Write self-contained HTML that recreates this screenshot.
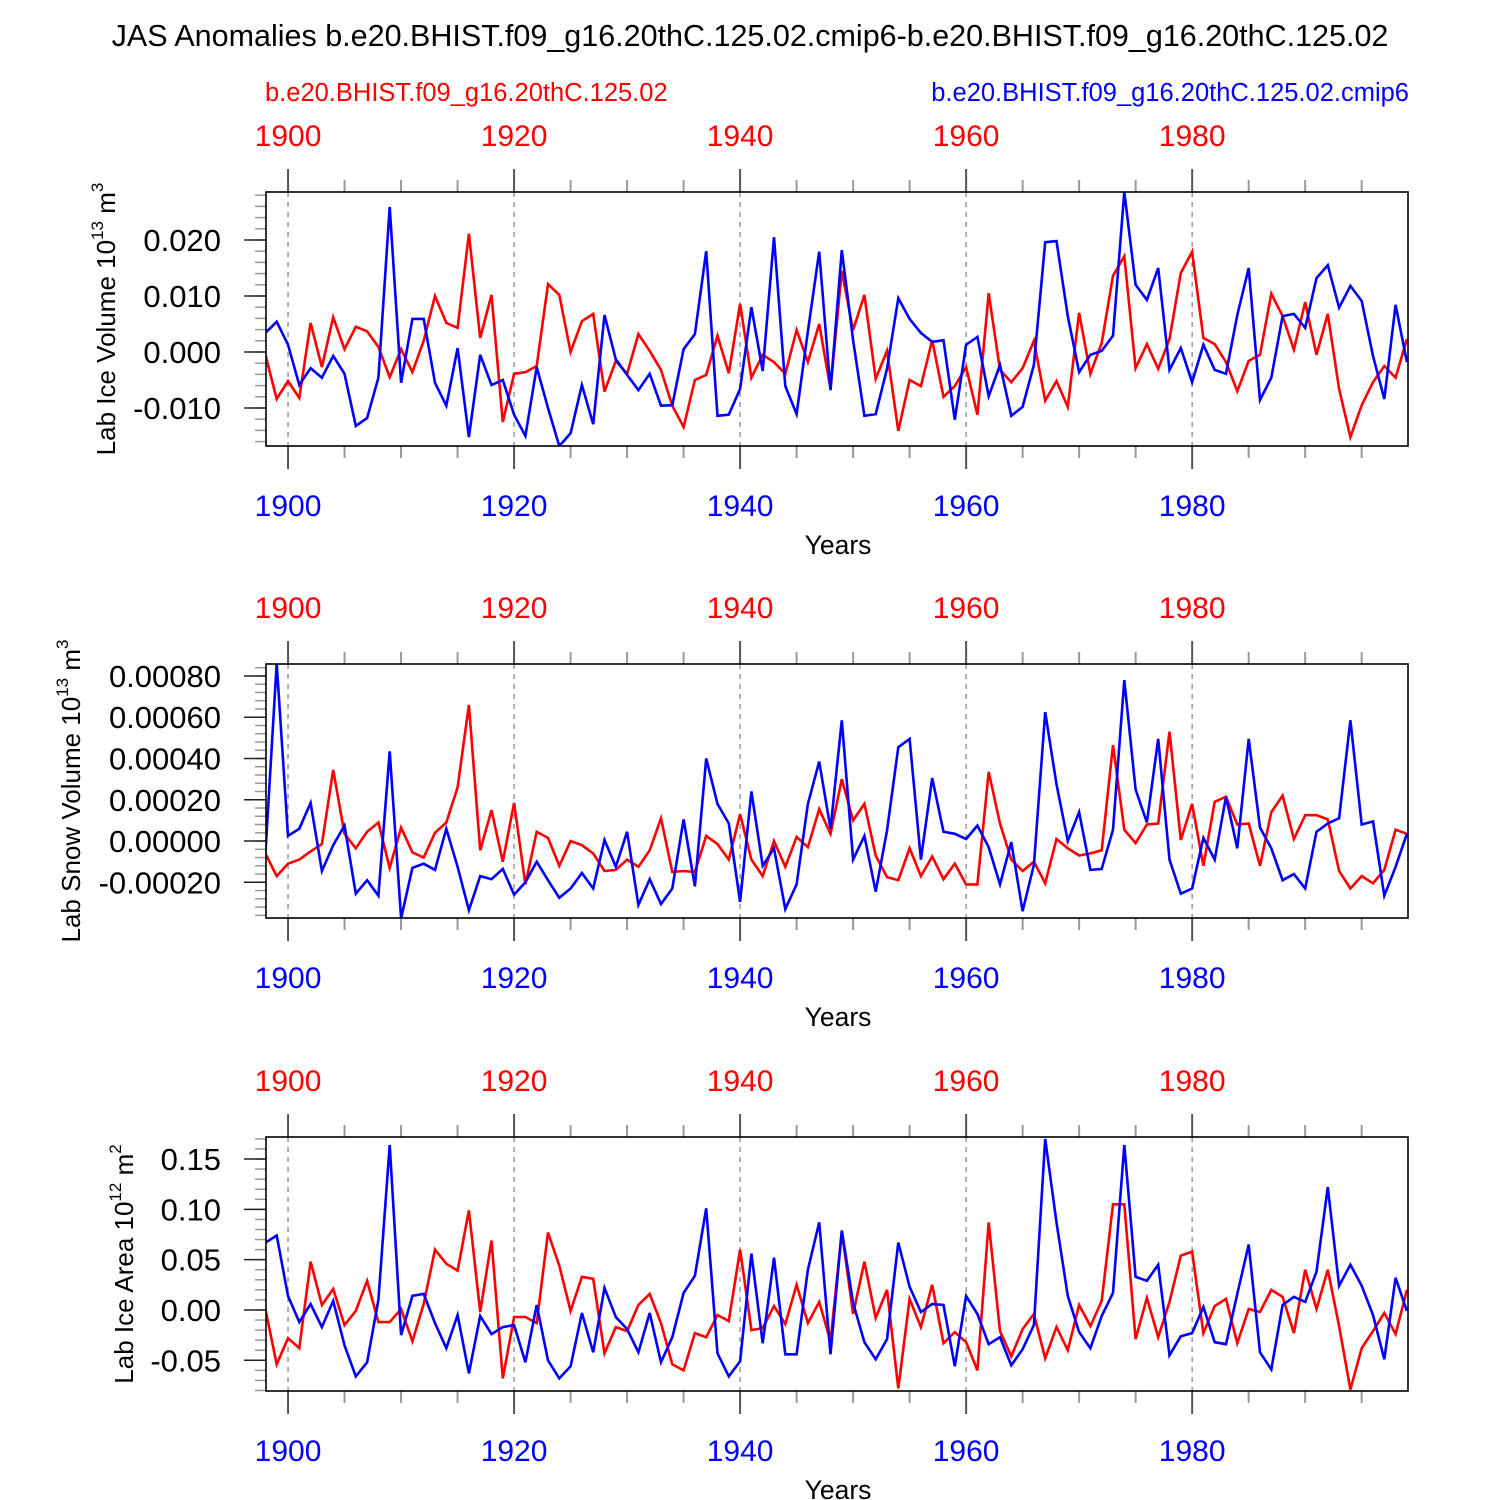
<!DOCTYPE html>
<html><head><meta charset="utf-8"><style>
html,body{margin:0;padding:0;background:#fff;}
svg{display:block;font-family:"Liberation Sans",sans-serif;}
</style></head><body>
<svg id="c" width="1500" height="1500" viewBox="0 0 1500 1500">
<text x="750" y="46" text-anchor="middle" font-size="30.5">JAS Anomalies b.e20.BHIST.f09_g16.20thC.125.02.cmip6-b.e20.BHIST.f09_g16.20thC.125.02</text>
<text x="265" y="101" font-size="25.5" fill="#ff0000">b.e20.BHIST.f09_g16.20thC.125.02</text>
<text x="1409" y="101" font-size="25.5" fill="#0000ff" text-anchor="end">b.e20.BHIST.f09_g16.20thC.125.02.cmip6</text>
</svg>
<script>
const startYear = 1898;
const decadeTicks = [1900, 1920, 1940, 1960, 1980];
const iceVolRed = [-0.0005,-0.0084,-0.0052,-0.0082,0.0052,-0.0027,0.0062,0.0005,0.0045,0.0037,0.0009,-0.0045,0.0005,-0.0036,0.002,0.01,0.0052,0.0043,0.0211,0.0025,0.0102,-0.0125,-0.0039,-0.0036,-0.0025,0.0121,0.0102,0,0.0055,0.0068,-0.0071,-0.0016,-0.0039,0.0032,0.0002,-0.0032,-0.0096,-0.0134,-0.005,-0.0041,0.0029,-0.0038,0.0086,-0.0046,-0.0005,-0.0018,-0.0039,0.0039,-0.0018,0.005,-0.0066,0.0145,0.0039,0.0102,-0.0048,0.0002,-0.0141,-0.005,-0.0061,0.0021,-0.008,-0.0061,-0.0027,-0.0112,0.0105,-0.0032,-0.0054,-0.0029,0.002,-0.0087,-0.0052,-0.0098,0.007,-0.0039,0.0016,0.0136,0.0171,-0.0029,0.0014,-0.003,0.0023,0.0141,0.0179,0.0025,0.0014,-0.0018,-0.007,-0.0016,-0.0005,0.0104,0.0064,0.0004,0.0089,-0.0005,0.0068,-0.0066,-0.0152,-0.0095,-0.0054,-0.0025,-0.0046,0.0023];
const iceVolBlue = [0.0034,0.0054,0.0013,-0.0059,-0.0029,-0.0046,-0.0007,-0.0039,-0.0132,-0.0118,-0.0046,0.0259,-0.0055,0.0059,0.0059,-0.0055,-0.0096,0.0007,-0.0152,-0.0005,-0.0059,-0.005,-0.0112,-0.015,-0.0027,-0.01,-0.0168,-0.0145,-0.0059,-0.0129,0.0066,-0.0013,-0.0041,-0.0068,-0.0039,-0.0096,-0.0095,0.0005,0.0032,0.018,-0.0114,-0.0112,-0.0066,0.008,-0.0034,0.0205,-0.0061,-0.0111,0.0037,0.0179,-0.0068,0.0182,0.0021,-0.0114,-0.0111,-0.003,0.0096,0.0059,0.0034,0.0018,0.0021,-0.0121,0.0013,0.0027,-0.0079,-0.0023,-0.0114,-0.0098,-0.0023,0.0196,0.0198,0.0064,-0.0036,-0.0005,0.0002,0.0029,0.0286,0.012,0.0093,0.015,-0.0032,0.0007,-0.0054,0.0013,-0.0032,-0.0039,0.0066,0.015,-0.0086,-0.0046,0.0064,0.0068,0.0043,0.0132,0.0155,0.0079,0.0118,0.0091,-0.0007,-0.0084,0.0084,-0.0018];
const snowVolRed = [-0.6,-1.7,-1.1,-0.9,-0.5,-0.15,3.45,0.35,-0.35,0.45,0.9,-1.3,0.65,-0.55,-0.8,0.4,0.9,2.6,6.6,-0.45,1.5,-1.0,1.85,-2.1,0.45,0.15,-1.2,0,-0.2,-0.6,-1.45,-1.4,-0.9,-1.25,-0.45,1.1,-1.5,-1.45,-1.5,0.25,-0.15,-0.9,1.3,-0.9,-1.7,0,-1.25,0.2,-0.3,1.55,0.35,3.0,1.0,1.8,-0.7,-1.75,-1.9,-0.35,-1.7,-0.75,-1.85,-1.1,-2.1,-2.1,3.35,0.85,-0.9,-1.45,-1.0,-2.05,0.1,-0.35,-0.7,-0.6,-0.45,4.65,0.55,-0.1,0.8,0.85,5.3,0.05,1.8,-1.2,1.9,2.15,0.8,0.85,-1.2,1.4,2.2,0.1,1.25,1.25,1.05,-1.45,-2.3,-1.7,-2.05,-1.4,0.55,0.35];
const snowVolBlue = [-0.6,8.6,0.25,0.6,1.85,-1.45,-0.2,0.75,-2.55,-1.9,-2.65,4.35,-3.75,-1.3,-1.1,-1.4,0.6,-1.25,-3.35,-1.7,-1.85,-1.35,-2.6,-2.0,-1.0,-1.9,-2.75,-2.3,-1.55,-2.3,0.05,-1.25,0.45,-3.1,-1.85,-3.05,-2.3,1.05,-2.2,4.0,1.8,0.85,-2.95,2.4,-1.2,-0.35,-3.3,-2.1,1.8,3.85,0.6,5.85,-0.9,0.25,-2.45,0.5,4.55,4.95,-0.9,3.05,0.45,0.35,0.1,0.75,-0.3,-2.1,-0.05,-3.4,-1.15,6.25,2.75,0,1.4,-1.4,-1.35,0.55,7.8,2.5,0.9,4.95,-0.9,-2.55,-2.3,0.15,-0.9,2.15,-0.35,4.95,0.65,-0.35,-1.9,-1.6,-2.3,0.45,0.85,1.1,5.85,0.8,0.95,-2.65,-1.25,0.35];
const iceAreaRed = [0.001,-0.054,-0.028,-0.038,0.048,0.005,0.021,-0.015,-0.001,0.029,-0.012,-0.012,0.001,-0.031,0.006,0.06,0.046,0.039,0.099,-0.002,0.069,-0.068,-0.007,-0.007,-0.013,0.077,0.044,-0.001,0.033,0.031,-0.043,-0.017,-0.021,0.005,0.016,-0.013,-0.054,-0.06,-0.023,-0.027,-0.005,-0.011,0.06,-0.02,-0.018,0.004,-0.014,0.025,-0.013,0.008,-0.031,0.078,-0.004,0.048,-0.008,0.02,-0.078,0.011,-0.017,0.025,-0.033,-0.022,-0.032,-0.06,0.087,-0.021,-0.046,-0.019,-0.004,-0.048,-0.017,-0.04,0.005,-0.016,0.009,0.105,0.105,-0.029,0.012,-0.027,0.008,0.054,0.058,-0.023,0.004,0.011,-0.033,0.001,-0.002,0.02,0.013,-0.023,0.04,0.001,0.04,-0.016,-0.079,-0.038,-0.021,-0.003,-0.024,0.02];
const iceAreaBlue = [0.067,0.074,0.014,-0.012,0.006,-0.017,0.009,-0.035,-0.066,-0.052,0.01,0.164,-0.025,0.014,0.016,-0.013,-0.038,-0.005,-0.063,-0.006,-0.024,-0.017,-0.015,-0.052,0.005,-0.05,-0.068,-0.056,-0.003,-0.042,0.022,-0.007,-0.019,-0.042,-0.003,-0.052,-0.027,0.017,0.034,0.101,-0.043,-0.066,-0.051,0.056,-0.033,0.052,-0.044,-0.044,0.04,0.087,-0.044,0.079,0.007,-0.032,-0.049,-0.029,0.067,0.023,-0.002,0.006,0.005,-0.056,0.014,-0.004,-0.034,-0.027,-0.055,-0.039,-0.015,0.17,0.087,0.014,-0.022,-0.038,-0.006,0.017,0.164,0.033,0.029,0.045,-0.045,-0.026,-0.023,0.003,-0.032,-0.034,0.016,0.065,-0.042,-0.059,0.005,0.013,0.008,0.038,0.122,0.024,0.045,0.024,-0.005,-0.049,0.032,-0.001];
const iceVolTicks = ["-0.010","0.000","0.010","0.020"];
const snowTicks = ["-0.00020","0.00000","0.00020","0.00040","0.00060","0.00080"];
const areaTicks = ["-0.05","0.00","0.05","0.10","0.15"];

const NS = "http://www.w3.org/2000/svg";
const svg = document.getElementById('c');
const X0 = 266, X1 = 1408, YMIN = 1898.05, YMAX = 1999.1;
function xs(yr){ return X0 + (yr - YMIN) / (YMAX - YMIN) * (X1 - X0); }
function mk(tag, attrs, parent){ const e = document.createElementNS(NS, tag); for (const k in attrs) e.setAttribute(k, attrs[k]); (parent||svg).appendChild(e); return e; }

function panel(cfg){
  const top = cfg.top, bot = top + 254;
  const ys = v => bot - (v - cfg.vmin) / (cfg.vmax - cfg.vmin) * 254;
  const g = mk('g', {});
  
  
  decadeTicks.forEach(yr => {
    const l = mk('line', {x1: xs(yr), x2: xs(yr), y1: top, y2: bot, stroke: '#888', 'stroke-width': 1.3, 'stroke-dasharray': '5,5'}, g);
    
    
  });
  for (let yr = 1900; yr <= 1995; yr += 5) {
    const major = yr % 20 === 0;
    const len = major ? 23 : 12;
    const col = major ? '#555' : '#999';
    mk('line', {x1: xs(yr), x2: xs(yr), y1: top, y2: top - len, stroke: col, 'stroke-width': 2}, g);
    mk('line', {x1: xs(yr), x2: xs(yr), y1: bot, y2: bot + len, stroke: col, 'stroke-width': 2}, g);
  }
  decadeTicks.forEach(yr => {
    const t1 = mk('text', {x: xs(yr), y: top - 46, 'text-anchor': 'middle', 'font-size': 30, fill: '#ff0000'}, g);
    t1.textContent = yr;
    
    
    const t2 = mk('text', {x: xs(yr), y: bot + 70, 'text-anchor': 'middle', 'font-size': 30, fill: '#0000ff'}, g);
    t2.textContent = yr;
    
    
  });
  const xt = mk('text', {x: 838, y: bot + 108, 'text-anchor': 'middle', 'font-size': 26.5}, g);
  xt.textContent = 'Years';
  
  
  for (let v = cfg.minorStart; v <= cfg.vmax + 1e-12; v += cfg.minor) {
    if (v < cfg.vmin - 1e-12) continue;
    mk('line', {x1: X0, x2: X0 - 11, y1: ys(v), y2: ys(v), stroke: '#999', 'stroke-width': 1.5}, g);
  }
  cfg.ticks.forEach(lbl => {
    const v = parseFloat(lbl);
    mk('line', {x1: X0, x2: X0 - 22, y1: ys(v), y2: ys(v), stroke: '#222', 'stroke-width': 1.5}, g);
    const t = mk('text', {x: X0 - 45, y: ys(v) + 11, 'text-anchor': 'end', 'font-size': 31}, g);
    t.textContent = lbl;
    
    
  });
  const yt = mk('text', {x: 0, y: 0, 'font-size': 26, 'text-anchor': 'middle', transform: `translate(${cfg.titleX},${top + 127}) rotate(-90)`}, g);
  yt.innerHTML = cfg.title + ' 10<tspan dy="-12" font-size="17">' + cfg.exp + '</tspan><tspan dy="12"> m</tspan><tspan dy="-12" font-size="17">' + cfg.unit + '</tspan>';
  
  
  const cid = 'clip' + top;
  const cp = mk('clipPath', {id: cid}, g);
  mk('rect', {x: X0, y: top, width: X1 - X0, height: 254}, cp);
  [[cfg.red, '#ff0000', 'red-series-line'], [cfg.blue, '#0000ff', 'blue-series-line']].forEach(([arr, col, nm]) => {
    const pts = arr.map((v, i) => xs(startYear + i).toFixed(1) + ',' + ys(v * cfg.scale).toFixed(1)).join(' ');
    const p = mk('polyline', {points: pts, fill: 'none', stroke: col, 'stroke-width': 2.6, 'stroke-linejoin': 'miter', 'clip-path': `url(#${cid})`}, g);
    
    
  });
  const box = mk('rect', {x: X0, y: top, width: X1 - X0, height: 254, fill: 'none', stroke: '#000', 'stroke-width': 1.6}, g);
  
  
}

panel({name: 'ice-volume-panel', top: 192, vmin: -0.01679, vmax: 0.02857, minor: 0.002, minorStart: -0.016, ticks: iceVolTicks, red: iceVolRed, blue: iceVolBlue, scale: 1, title: 'Lab Ice Volume', exp: '13', unit: '3', titleX: 115});
panel({name: 'snow-volume-panel', top: 664, vmin: -0.000373, vmax: 0.000858, minor: 0.00004, minorStart: -0.00036, ticks: snowTicks, red: snowVolRed, blue: snowVolBlue, scale: 0.0001, title: 'Lab Snow Volume', exp: '13', unit: '3', titleX: 80});
panel({name: 'ice-area-panel', top: 1137, vmin: -0.0805, vmax: 0.1719, minor: 0.01, minorStart: -0.08, ticks: areaTicks, red: iceAreaRed, blue: iceAreaBlue, scale: 1, title: 'Lab Ice Area', exp: '12', unit: '2', titleX: 133});
</script>
</body></html>
